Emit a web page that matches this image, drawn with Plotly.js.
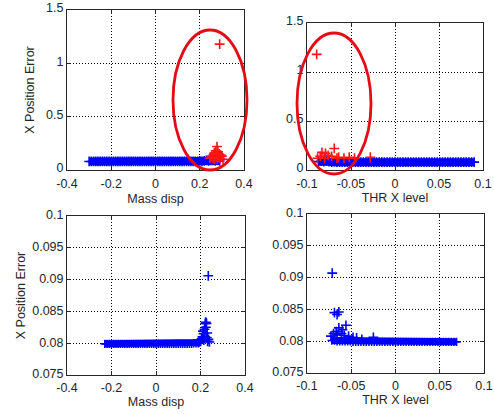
<!DOCTYPE html>
<html>
<head>
<meta charset="utf-8">
<script src="https://cdn.plot.ly/plotly-3.0.1.min.js"></script>
<style>html,body{margin:0;padding:0;background:#fff;}#chart{width:494px;height:414px;}</style>
</head>
<body>
<div id="chart"></div>
<script>
// ---- Top-left: X Position Error vs Mass disp (full range)
var tlBandX = [-0.30,-0.29,-0.28,-0.27,-0.26,-0.25,-0.24,-0.23,-0.22,-0.21,-0.20,-0.19,-0.18,-0.17,-0.16,-0.15,-0.14,-0.13,-0.12,-0.11,-0.10,-0.09,-0.08,-0.07,-0.06,-0.05,-0.04,-0.03,-0.02,-0.01,0.00,0.01,0.02,0.03,0.04,0.05,0.06,0.07,0.08,0.09,0.10,0.11,0.12,0.13,0.14,0.15,0.16,0.17,0.18,0.19,0.20,0.21,0.22,0.23,0.24,0.25,0.26,0.27,0.28,0.29];
var tlBandY = [0.08,0.08,0.08,0.08,0.08,0.08,0.08,0.08,0.08,0.08,0.08,0.08,0.08,0.08,0.08,0.08,0.08,0.08,0.08,0.08,0.08,0.08,0.08,0.08,0.08,0.08,0.08,0.08,0.08,0.08,0.08,0.08,0.08,0.08,0.08,0.08,0.08,0.08,0.08,0.08,0.08,0.08,0.08,0.08,0.08,0.08,0.08,0.08,0.08,0.08,0.085,0.08,0.085,0.09,0.085,0.09,0.09,0.085,0.09,0.085];
var tlRedX = [0.290,0.278,0.272,0.282,0.266,0.288,0.262,0.295,0.255,0.300,0.270,0.285,0.250,0.276,0.292,0.260,0.245,0.280,0.268,0.305];
var tlRedY = [1.18,0.22,0.18,0.17,0.16,0.15,0.14,0.14,0.13,0.13,0.13,0.12,0.12,0.12,0.11,0.11,0.11,0.10,0.10,0.10];

// ---- Top-right: X Position Error vs THR X level (full range)
var trBandX = [-0.087,-0.084,-0.081,-0.078,-0.075,-0.072,-0.069,-0.066,-0.063,-0.060,-0.057,-0.054,-0.051,-0.048,-0.045,-0.042,-0.039,-0.036,-0.033,-0.030,-0.027,-0.024,-0.021,-0.018,-0.015,-0.012,-0.009,-0.006,-0.003,0.000,0.003,0.006,0.009,0.012,0.015,0.018,0.021,0.024,0.027,0.030,0.033,0.036,0.039,0.042,0.045,0.048,0.051,0.054,0.057,0.060,0.063,0.066,0.069,0.072,0.075,0.078,0.081,0.084,0.087,0.090];
var trBandY = [0.085,0.09,0.085,0.09,0.085,0.08,0.085,0.08,0.08,0.08,0.08,0.08,0.08,0.08,0.08,0.08,0.08,0.08,0.08,0.08,0.08,0.08,0.08,0.08,0.08,0.08,0.08,0.08,0.08,0.08,0.08,0.08,0.08,0.08,0.08,0.08,0.08,0.08,0.08,0.08,0.08,0.08,0.08,0.08,0.08,0.08,0.08,0.08,0.08,0.08,0.08,0.08,0.08,0.08,0.08,0.08,0.08,0.08,0.08,0.08];
var trRedX = [-0.089,-0.069,-0.083,-0.079,-0.076,-0.085,-0.072,-0.064,-0.058,-0.052,-0.046,-0.028,-0.088,-0.080,-0.066];
var trRedY = [1.18,0.22,0.18,0.17,0.15,0.14,0.14,0.13,0.12,0.13,0.12,0.13,0.12,0.12,0.12];

// ---- Bottom-left: zoomed y range vs Mass disp
var blBandX = [-0.23,-0.22,-0.21,-0.20,-0.19,-0.18,-0.17,-0.16,-0.15,-0.14,-0.13,-0.12,-0.11,-0.10,-0.09,-0.08,-0.07,-0.06,-0.05,-0.04,-0.03,-0.02,-0.01,0.00,0.01,0.02,0.03,0.04,0.05,0.06,0.07,0.08,0.09,0.10,0.11,0.12,0.13,0.14,0.15,0.16,0.17,0.18,0.19,0.20];
var blBandY = [0.0799,0.0799,0.0799,0.0799,0.0799,0.0799,0.0799,0.0799,0.0799,0.0799,0.0799,0.0799,0.0799,0.0799,0.0799,0.0799,0.0799,0.0799,0.0799,0.0799,0.0799,0.0799,0.0799,0.0799,0.0799,0.0799,0.0799,0.0799,0.0799,0.0799,0.0799,0.0799,0.0799,0.0799,0.0799,0.0799,0.0799,0.0799,0.0799,0.0799,0.0800,0.0800,0.0801,0.0802];
var blExtraX = [0.235,0.224,0.221,0.227,0.224,0.218,0.230,0.214,0.209,0.220,0.236,0.240,0.205,0.200,0.195,0.215,0.228,0.211,0.232,0.190];
var blExtraY = [0.0906,0.0833,0.0831,0.0831,0.0825,0.0822,0.0816,0.0815,0.0810,0.0810,0.0806,0.0802,0.0807,0.0804,0.0802,0.0805,0.0809,0.0819,0.0803,0.0801];

// ---- Bottom-right: zoomed y range vs THR X level
var brBandX = [-0.072,-0.069,-0.066,-0.063,-0.060,-0.057,-0.054,-0.051,-0.048,-0.045,-0.042,-0.039,-0.036,-0.033,-0.030,-0.027,-0.024,-0.021,-0.018,-0.015,-0.012,-0.009,-0.006,-0.003,0.000,0.003,0.006,0.009,0.012,0.015,0.018,0.021,0.024,0.027,0.030,0.033,0.036,0.039,0.042,0.045,0.048,0.051,0.054,0.057,0.060,0.063,0.066,0.069];
var brBandY = [0.0801,0.0801,0.0800,0.0800,0.0800,0.0800,0.0800,0.0800,0.0799,0.0799,0.0799,0.0799,0.0799,0.0799,0.0799,0.0799,0.0799,0.0799,0.0799,0.0799,0.0799,0.0799,0.0799,0.0799,0.0799,0.0799,0.0799,0.0799,0.0799,0.0799,0.0799,0.0799,0.0799,0.0799,0.0799,0.0799,0.0799,0.0799,0.0799,0.0799,0.0799,0.0799,0.0799,0.0799,0.0799,0.0799,0.0799,0.0799];
var brExtraX = [-0.0715,-0.069,-0.064,-0.066,-0.056,-0.064,-0.070,-0.073,-0.067,-0.061,-0.058,-0.053,-0.048,-0.044,-0.038,-0.025,-0.060,-0.066];
var brExtraY = [0.0907,0.0845,0.0846,0.0842,0.0825,0.0821,0.0812,0.0808,0.0815,0.0812,0.0809,0.0808,0.0806,0.0805,0.0803,0.0806,0.0818,0.0810];

// ---- Tick labels
var massTicks = [-0.4,-0.2,0,0.2,0.4];
var massTickText = ["-0.4","-0.2","0","0.2","0.4"];
var thrTicks = [-0.1,-0.05,0,0.05,0.1];
var thrTickText = ["-0.1","-0.05","0","0.05","0.1"];
var errTicks = [0,0.5,1,1.5];
var errTickText = ["0","0.5","1","1.5"];
var zoomTicks = [0.075,0.08,0.085,0.09,0.095,0.1];
var zoomTickText = ["0.075","0.08","0.085","0.09","0.095","0.1"];

var BLUE = 'rgb(0,0,255)', RED = 'rgb(255,20,20)';
function mk(x, y, color, size, xa, ya, band) {
  var t = {type:'scatter', mode: band ? 'lines+markers' : 'markers', x:x, y:y, xaxis:xa, yaxis:ya, hoverinfo:'skip',
    marker:{symbol:'cross-thin-open', size:size, color:color, line:{color:color, width:1.6}}};
  if (band) t.line = {color:color, width:band};
  return t;
}
var data = [
  mk(tlBandX, tlBandY, BLUE, 7, 'x', 'y', 8),
  mk(tlRedX, tlRedY, RED, 7, 'x', 'y'),
  mk(trBandX, trBandY, BLUE, 7, 'x2', 'y2', 8),
  mk(trRedX, trRedY, RED, 7, 'x2', 'y2'),
  mk(blBandX, blBandY, BLUE, 6, 'x3', 'y3', 7),
  mk(blExtraX, blExtraY, BLUE, 7, 'x3', 'y3'),
  mk(brBandX, brBandY, BLUE, 6, 'x4', 'y4', 7),
  mk(brExtraX, brExtraY, BLUE, 7, 'x4', 'y4')
];

var INK = '#262626';
function ax(o) {
  var a = {showline:true, linecolor:INK, linewidth:1, mirror:'ticks', ticks:'inside', ticklen:4,
    tickcolor:INK, showgrid:true, gridcolor:'#000', griddash:'1px,2px', gridwidth:1, zeroline:false,
    tickfont:{size:12.5, color:INK}, fixedrange:true, automargin:false, tickmode:'array'};
  for (var k in o) a[k] = o[k];
  return a;
}
var W = 494, H = 414;
function dx(a, b) { return [a / W, b / W]; }
function dy(top, bot) { return [1 - bot / H, 1 - top / H]; }

var layout = {
  width:W, height:H, margin:{l:0, r:0, t:0, b:0}, showlegend:false,
  paper_bgcolor:'#fff', plot_bgcolor:'#fff',
  font:{family:'Liberation Sans, Arial, sans-serif', size:12, color:INK},
  xaxis: ax({domain:dx(67,244), range:[-0.4,0.4], anchor:'y', tickvals:massTicks, ticktext:massTickText,
    ticklabelstandoff:2, title:{text:'Mass disp', standoff:4, font:{size:12.5}}}),
  yaxis: ax({domain:dy(10,170), range:[0,1.5], anchor:'x', tickvals:errTicks, ticktext:errTickText,
    ticklabelshift:-2, title:{text:'X Position Error', standoff:8, font:{size:12.5}}}),
  xaxis2: ax({domain:dx(307,483), range:[-0.1,0.1], anchor:'y2', tickvals:thrTicks, ticktext:thrTickText,
    ticklabelstandoff:2, title:{text:'THR X level', standoff:2, font:{size:12.5}}}),
  yaxis2: ax({domain:dy(23,170), range:[0,1.5], anchor:'x2', tickvals:errTicks, ticktext:errTickText,
    ticklabelshift:-2}),
  xaxis3: ax({domain:dx(67,245), range:[-0.4,0.4], anchor:'y3', tickvals:massTicks, ticktext:massTickText,
    ticklabelstandoff:1, title:{text:'Mass disp', standoff:2, font:{size:12.5}}}),
  yaxis3: ax({domain:dy(216,375), range:[0.075,0.1], anchor:'x3', tickvals:zoomTicks, ticktext:zoomTickText,
    ticklabelshift:-1, title:{text:'X Position Error', standoff:3, font:{size:12.5}}}),
  xaxis4: ax({domain:dx(307,484), range:[-0.1,0.1], anchor:'y4', tickvals:thrTicks, ticktext:thrTickText,
    ticklabelstandoff:1, title:{text:'THR X level', standoff:2, font:{size:12.5}}}),
  yaxis4: ax({domain:dy(214,373), range:[0.075,0.1], anchor:'x4', tickvals:zoomTicks, ticktext:zoomTickText,
    ticklabelshift:-1}),
  shapes:[
    {type:'circle', xref:'paper', yref:'paper', x0:173/W, x1:247/W, y0:1-170/H, y1:1-30/H,
      line:{color:'rgb(230,10,20)', width:2.8}, layer:'above'},
    {type:'circle', xref:'paper', yref:'paper', x0:297/W, x1:371/W, y0:1-174/H, y1:1-33/H,
      line:{color:'rgb(230,10,20)', width:2.8}, layer:'above'}
  ]
};

Plotly.newPlot('chart', data, layout, {staticPlot:true, displayModeBar:false});
</script>
</body>
</html>
